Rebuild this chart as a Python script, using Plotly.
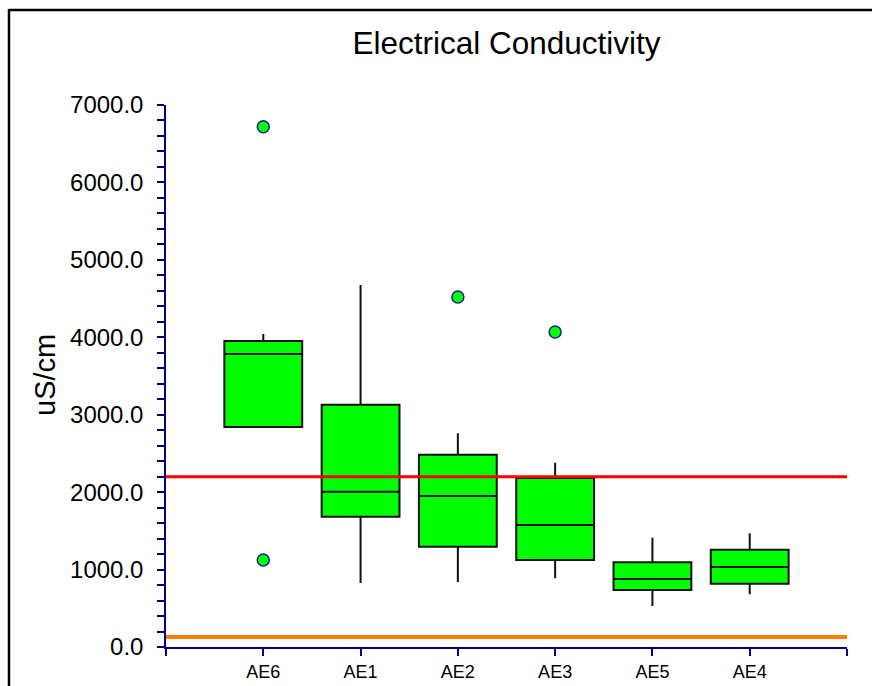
import plotly.graph_objects as go

# ---- data ----
categories = ["AE6", "AE1", "AE2", "AE3", "AE5", "AE4"]
q1 = [2840, 1683, 1296, 1124, 736, 818]
median = [3784, 2006, 1950, 1576, 878, 1033]
q3 = [3952, 3129, 2484, 2183, 1094, 1257]
lower_whisker = [2830, 826, 839, 887, 530, 681]
upper_whisker = [4042, 4675, 2760, 2380, 1412, 1468]
outlier_cat = ["AE6", "AE6", "AE2", "AE3"]
outlier_val = [6720, 1124, 4520, 4068]
red_limit = 2200
orange_limit = 130
y_ticks = [0, 1000, 2000, 3000, 4000, 5000, 6000, 7000]

FONT = "Liberation Sans, Arial, sans-serif"
NAVY = "#000080"

pos = list(range(len(categories)))
cat_pos = {c: i for i, c in enumerate(categories)}

fig = go.Figure()
fig.add_trace(go.Box(
    x=pos, q1=q1, median=median, q3=q3,
    lowerfence=lower_whisker, upperfence=upper_whisker,
    boxpoints=False, width=0.8, whiskerwidth=0,
    fillcolor="#00FF00", line=dict(color="#111111", width=2),
    showlegend=False, hoverinfo="skip",
))
fig.add_trace(go.Scatter(
    x=[cat_pos[c] for c in outlier_cat], y=outlier_val, mode="markers",
    marker=dict(size=12, color="#00FF00", line=dict(color="#1c1ca0", width=1.5)),
    showlegend=False, hoverinfo="skip",
))

W, H = 872, 686
L, R, T, B = 166, 25, 105, 39
pw, ph = W - L - R, H - T - B

def px_x(p):
    return (p - L) / pw

def px_y(p):
    return (H - B - p) / ph

fig.add_shape(type="line", xref="x", yref="y", x0=-1, x1=6, y0=red_limit, y1=red_limit,
              line=dict(color="#FF0000", width=3))
fig.add_shape(type="line", xref="x", yref="y", x0=-1, x1=6, y0=orange_limit, y1=orange_limit,
              line=dict(color="#FF8000", width=4))
# outer frame: top and left edges (the rest runs off the page)
fig.add_shape(type="line", xref="paper", yref="paper",
              x0=px_x(9), x1=px_x(W + 20), y0=px_y(10), y1=px_y(10),
              line=dict(color="black", width=2.5))
fig.add_shape(type="line", xref="paper", yref="paper",
              x0=px_x(9), x1=px_x(9), y0=px_y(9), y1=px_y(H + 20),
              line=dict(color="black", width=2.5))

fig.add_annotation(text="uS/cm", xref="paper", yref="paper", x=px_x(45), y=px_y(375),
                   textangle=-90, showarrow=False, font=dict(family=FONT, size=29, color="black"),
                   xanchor="center", yanchor="middle")

fig.update_layout(
    width=W, height=H,
    margin=dict(l=L, r=R, t=T, b=B),
    paper_bgcolor="white", plot_bgcolor="white",
    font=dict(family=FONT, color="black"),
    title=dict(text="Electrical Conductivity", x=0.5, xref="paper", xanchor="center",
               y=1 - 43 / H, yref="container", yanchor="middle",
               font=dict(family=FONT, size=31.5, color="black")),
    xaxis=dict(
        range=[-1, 6], tickvals=list(range(-1, 7)),
        ticktext=[""] + categories + [""],
        showgrid=False, zeroline=False, showline=True, linecolor=NAVY, linewidth=1.5,
        ticks="outside", ticklen=7, tickcolor=NAVY, tickwidth=1.5,
        tickfont=dict(family=FONT, size=18, color="black"),
        ticklabelstandoff=1,
        automargin=False,
    ),
    yaxis=dict(
        range=[0, 7000], tickvals=y_ticks, tickformat=".1f",
        showgrid=False, zeroline=False, showline=True, linecolor=NAVY, linewidth=1.5,
        ticks="outside", ticklen=7, tickcolor=NAVY, tickwidth=1.5,
        minor=dict(dtick=200, ticks="outside", ticklen=7, tickcolor=NAVY, tickwidth=1.5),
        tickfont=dict(family=FONT, size=24, color="black"),
        ticklabelstandoff=9,
        automargin=False,
    ),
)

# remove the default 8px page margin so the 872x686 figure fills the window exactly
fig.write_html("out.html",
               config={"displayModeBar": False},
               post_script="document.body.style.margin='0';document.body.style.overflow='hidden';")
